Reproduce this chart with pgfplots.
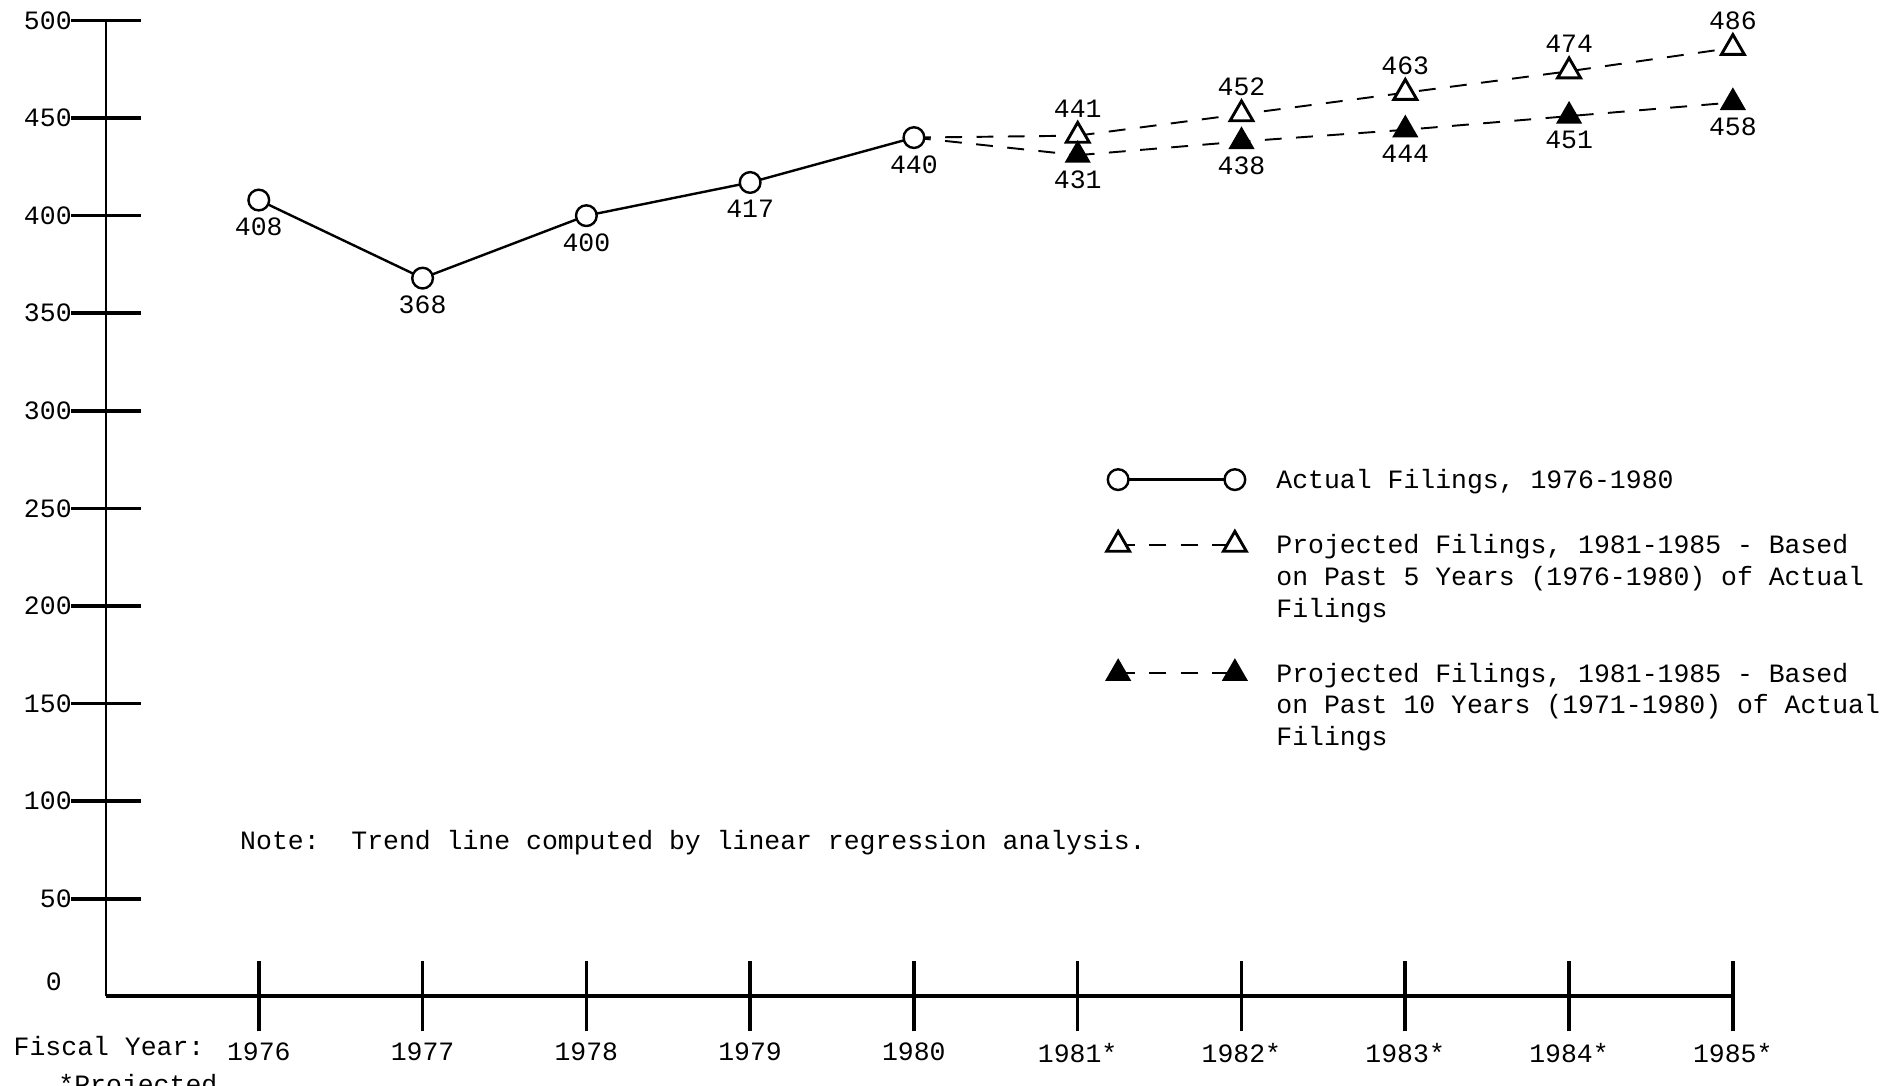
\documentclass[border=0pt]{standalone}
\usepackage{pgfplots}
\pgfplotsset{compat=1.18}
\usepackage{fontspec}
\setmainfont{Liberation Mono}
\begin{document}
\fontsize{11}{13.25}\selectfont
\begin{tikzpicture}
\begin{axis}[
  scale only axis, width=676pt, height=405.5pt,
  xmin=1975.067, xmax=1985, ymin=0, ymax=500,
  axis lines*=left,
  axis line style={line width=1.2pt},
  x axis line style={line width=1.6pt},
  tick align=center,
  major tick length=29pt,
  every tick/.style={black, line width=1.5pt},
  ytick={50,100,...,500},
  yticklabel style={xshift=4pt},
  extra y ticks={0},
  extra y tick style={major tick length=0pt, yticklabel style={xshift=-18.5pt, yshift=6pt}},
  xtick={1976,...,1985},
  xticklabels={1976,1977,1978,1979,1980,1981*,1982*,1983*,1984*,1985*},
  xticklabel style={yshift=-1pt},
  clip=false,
  /pgf/number format/assume math mode=true,
  legend style={draw=none, fill=none, inner sep=0pt,
    at={(axis cs:1981.174,272)}, anchor=north west,
    cells={anchor=base west},
    nodes={inner sep=0pt, text depth={}, text height={}},
    column sep=12.5pt, row sep=13.75pt},
  legend image code/.code={\draw[mark indices={1,2}] plot coordinates {(0pt,3.6pt) (48.5pt,3.6pt)};},
  proj/.style={black, line width=0.8pt, dash pattern=on 7pt off 6pt},
]
% dashed links from 1980 to the first projections
\addplot[proj, forget plot] coordinates {(1980,440) (1981,441)};
\addplot[proj, forget plot] coordinates {(1980,440) (1981,431)};

\addplot[black, line width=1pt, mark=*, mark size=4.3pt,
  mark options={fill=white, line width=1pt, solid},
  nodes near coords,
  every node near coord/.append style={anchor=north, yshift=-6pt, inner sep=1pt}]
  coordinates {(1976,408) (1977,368) (1978,400) (1979,417) (1980,440)};
\addlegendentry{\parbox[t]{260pt}{\strut Actual Filings, 1976-1980\strut}}

\addplot[proj, mark=triangle*, mark size=5.5pt,
  mark options={fill=white, line width=1.2pt, solid},
  nodes near coords,
  every node near coord/.append style={anchor=south, yshift=6pt, inner sep=1pt}]
  coordinates {(1981,441) (1982,452) (1983,463) (1984,474) (1985,486)};
\addlegendentry{\parbox[t]{260pt}{\strut Projected Filings, 1981-1985 - Based\\on Past 5 Years (1976-1980) of Actual\\Filings\strut}}

\addplot[proj, mark=triangle*, mark size=5.5pt,
  mark options={fill=black, solid},
  nodes near coords,
  every node near coord/.append style={anchor=north, yshift=-5pt, inner sep=1pt}]
  coordinates {(1981,431) (1982,438) (1983,444) (1984,451) (1985,458)};
\addlegendentry{\parbox[t]{260pt}{\strut Projected Filings, 1981-1985 - Based\\on Past 10 Years (1971-1980) of Actual\\Filings\strut}}

\node[anchor=base west] at (axis cs:1975.83,75) {Note:~~Trend line computed by linear regression analysis.};
\node[anchor=base west] at (axis cs:1974.447,-30.5) {Fiscal Year:};
\node[anchor=base west] at (axis cs:1974.72,-50) {*Projected};

\coordinate (bbsw) at (axis cs:1974.420,-45.6);
\coordinate (bbne) at (axis cs:1985.941,510.5);
\end{axis}
\pgfresetboundingbox
\path[use as bounding box] (bbsw) rectangle (bbne);
\end{tikzpicture}
\end{document}
